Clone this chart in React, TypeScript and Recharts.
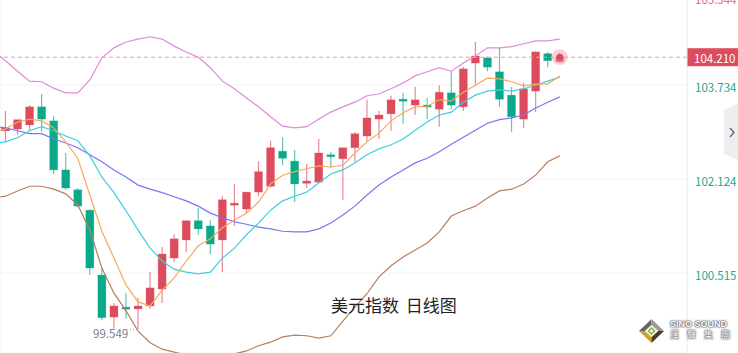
import React from 'react';
import {
  ComposedChart,
  Bar,
  Line,
  XAxis,
  YAxis,
  CartesianGrid,
  ReferenceLine,
  ReferenceDot,
} from 'recharts';

const opens = [102.95, 102.98, 103.05, 103.36, 103.12, 102.28, 101.94, 101.59, 100.48, 99.76, 99.93, 99.90, 99.95, 100.24, 100.77, 101.08, 101.41, 101.32, 101.08, 101.68, 101.61, 101.90, 102.00, 102.60, 102.43, 102.05, 102.07, 102.54, 102.47, 102.66, 102.86, 103.15, 103.24, 103.49, 103.39, 103.39, 103.32, 103.60, 103.36, 104.11, 104.20, 103.96, 103.56, 103.15, 103.63, 104.27, 104.13];
const closes = [103.00, 103.14, 103.36, 103.15, 102.28, 101.97, 101.66, 100.60, 99.75, 99.95, 99.90, 99.95, 100.26, 100.84, 101.10, 101.41, 101.27, 101.01, 101.77, 101.71, 101.90, 102.25, 102.66, 102.48, 102.04, 102.09, 102.57, 102.51, 102.66, 102.90, 103.17, 103.22, 103.48, 103.46, 103.48, 103.36, 103.61, 103.39, 104.01, 104.23, 104.04, 103.49, 103.19, 103.67, 104.30, 104.15, 104.21];
const highs = [103.29, 103.14, 103.39, 103.58, 103.20, 102.57, 101.97, 101.61, 100.60, 100.00, 100.17, 100.09, 100.53, 100.96, 101.18, 101.41, 101.63, 101.42, 101.83, 102.04, 101.90, 102.43, 102.78, 102.84, 102.62, 102.38, 102.81, 102.59, 102.66, 102.93, 103.48, 103.29, 103.55, 103.60, 103.70, 103.51, 103.73, 103.97, 104.04, 104.47, 104.22, 104.37, 103.70, 103.77, 104.31, 104.30, 104.29];
const lows = [102.76, 102.88, 102.95, 102.93, 102.21, 101.94, 101.64, 100.48, 99.71, 99.56, 99.73, 99.549, 99.90, 100.00, 100.70, 100.87, 101.17, 100.84, 100.53, 101.32, 101.54, 101.83, 101.98, 102.36, 101.73, 101.97, 102.05, 102.31, 101.77, 102.42, 102.76, 102.81, 102.95, 103.07, 103.22, 103.15, 103.02, 103.32, 103.29, 103.73, 103.97, 103.36, 102.93, 103.00, 103.27, 104.04, 104.11];

// line series start one day earlier than the candles, that day sits just off the left edge
const upperBand = [104.32, 104.15, 103.97, 103.80, 103.79, 103.68, 103.60, 103.60, 103.82, 104.20, 104.37, 104.47, 104.52, 104.56, 104.52, 104.40, 104.30, 104.21, 104.03, 103.80, 103.67, 103.51, 103.36, 103.19, 103.03, 103.00, 103.02, 103.15, 103.27, 103.36, 103.44, 103.55, 103.58, 103.67, 103.77, 103.89, 103.96, 104.03, 103.97, 104.11, 104.23, 104.37, 104.37, 104.39, 104.44, 104.49, 104.49, 104.52];
const ma5 = [102.93, 102.98, 103.10, 103.15, 103.12, 103.00, 102.76, 102.48, 101.85, 101.23, 100.77, 100.31, 100.02, 99.95, 100.22, 100.43, 100.72, 100.98, 101.10, 101.29, 101.42, 101.54, 101.73, 102.04, 102.19, 102.25, 102.30, 102.35, 102.33, 102.36, 102.57, 102.76, 102.91, 103.12, 103.26, 103.36, 103.37, 103.48, 103.46, 103.61, 103.73, 103.85, 103.84, 103.79, 103.72, 103.75, 103.75, 103.89];
const ma10 = [102.73, 102.76, 102.83, 102.95, 103.02, 102.95, 102.86, 102.78, 102.52, 102.16, 101.89, 101.58, 101.25, 100.94, 100.72, 100.58, 100.53, 100.50, 100.53, 100.77, 100.94, 101.17, 101.37, 101.59, 101.75, 101.83, 101.90, 102.06, 102.21, 102.28, 102.40, 102.54, 102.64, 102.71, 102.81, 102.96, 103.10, 103.22, 103.27, 103.44, 103.56, 103.63, 103.65, 103.63, 103.67, 103.73, 103.80, 103.87];
const ma20 = [103.03, 103.00, 102.95, 102.90, 102.90, 102.81, 102.74, 102.66, 102.54, 102.42, 102.28, 102.16, 102.02, 101.95, 101.89, 101.82, 101.75, 101.66, 101.54, 101.46, 101.39, 101.35, 101.30, 101.27, 101.23, 101.22, 101.22, 101.27, 101.37, 101.51, 101.66, 101.85, 102.02, 102.16, 102.28, 102.40, 102.48, 102.59, 102.72, 102.84, 102.96, 103.08, 103.14, 103.17, 103.22, 103.34, 103.44, 103.53];
const lowerBand = [101.80, 101.83, 101.92, 102.00, 102.00, 101.95, 101.87, 101.68, 101.25, 100.60, 100.17, 99.87, 99.52, 99.32, 99.21, 99.16, 99.11, 99.06, 99.06, 99.09, 99.13, 99.18, 99.27, 99.33, 99.42, 99.45, 99.44, 99.40, 99.44, 99.69, 99.93, 100.16, 100.45, 100.64, 100.79, 100.91, 101.03, 101.22, 101.49, 101.58, 101.66, 101.80, 101.92, 101.95, 102.04, 102.19, 102.42, 102.52];

const priceTicks = [105.344, 103.734, 102.124, 100.515];
const dayTicks = [0, 15, 30, 45];
const lastPrice = 104.21;
const lowPrice = 99.549;

const data = upperBand.map((upper, n) => {
  const c = n - 1;
  const hasCandle = c >= 0;
  return {
    i: c,
    open: hasCandle ? opens[c] : null,
    close: hasCandle ? closes[c] : null,
    high: hasCandle ? highs[c] : null,
    low: hasCandle ? lows[c] : null,
    range: hasCandle ? [lows[c], highs[c]] : null,
    upperBand: upper,
    ma5: ma5[n],
    ma10: ma10[n],
    ma20: ma20[n],
    lowerBand: lowerBand[n],
  };
});

const RED = '#dc4c5c';
const GREEN = '#0aa98a';
const FONT = '"Noto Sans CJK SC", "Noto Sans", sans-serif';

function Candle(props: any) {
  const { x, y, width, height, payload } = props;
  if (payload.open == null) return null;
  const { open, close, high, low } = payload;
  const color = close >= open ? RED : GREEN;
  const unit = height / (high - low);
  const top = y + (high - Math.max(open, close)) * unit;
  const bodyHeight = Math.max(Math.abs(open - close) * unit, 2);
  const mid = x + width / 2;
  return (
    <g>
      <line x1={mid} x2={mid} y1={y} y2={y + height} stroke={color} strokeWidth={1.2} strokeOpacity={0.65} />
      <rect x={x} y={top} width={width} height={bodyHeight} fill={color} stroke={color} strokeOpacity={0.25} />
    </g>
  );
}

function PriceTick(props: any) {
  const { x, y, payload } = props;
  const isTop = payload.value === priceTicks[0];
  return (
    <text
      x={x}
      y={isTop ? y + 8 : y + 2}
      dominantBaseline="central"
      fontFamily={FONT}
      fontSize={11.5}
      fill={isTop ? '#e0697a' : '#19a98e'}
    >
      {payload.value.toFixed(3)}
    </text>
  );
}

function PriceTag(props: any) {
  const { viewBox } = props;
  const left = viewBox.x + viewBox.width;
  return (
    <g>
      <rect x={left} y={viewBox.y - 9} width={51} height={18} fill={RED} />
      <text x={left + 7} y={viewBox.y + 0.5} dominantBaseline="central" fontFamily={FONT} fontSize={11.5} fill="#fff">
        {lastPrice.toFixed(3)}
      </text>
    </g>
  );
}

function LowMark(props: any) {
  const { cx, cy } = props;
  return (
    <g>
      <line x1={cx - 11} x2={cx} y1={cy} y2={cy} stroke="#a0a6b0" strokeWidth={1} strokeDasharray="1 2" />
      <text x={cx - 45} y={cy + 3.5} dominantBaseline="central" fontFamily={FONT} fontSize={11.5} fill="#7a8088">
        {lowPrice}
      </text>
    </g>
  );
}

export default function App() {
  return (
    <div style={{ position: 'absolute', left: 0, top: 0, width: 738, height: 353, overflow: 'hidden', background: '#fff' }}>
      <div style={{ position: 'absolute', left: 0, top: -12 }}>
        <ComposedChart width={738} height={365} data={data} margin={{ top: 0, right: 0, bottom: 0, left: 0 }}>
          <CartesianGrid stroke="#f3f3f6" />
          <XAxis
            dataKey="i"
            type="number"
            domain={[-0.456, 56.56]}
            allowDataOverflow
            ticks={dayTicks}
            tick={false}
            tickLine={false}
            axisLine={false}
            height={0}
          />
          <YAxis
            orientation="right"
            width={51}
            domain={[99.145, 105.395]}
            allowDataOverflow
            ticks={priceTicks}
            interval={0}
            tick={<PriceTick />}
            tickLine={false}
            axisLine={{ stroke: '#eeeef0' }}
          />
          <Line dataKey="upperBand" stroke="#e08ad8" strokeWidth={1.2} dot={false} activeDot={false} isAnimationActive={false} />
          <Line dataKey="lowerBand" stroke="#b87f5c" strokeWidth={1.2} dot={false} activeDot={false} isAnimationActive={false} />
          <Bar dataKey="range" barSize={8} shape={<Candle />} isAnimationActive={false} />
          <Line dataKey="ma20" stroke="#7478f5" strokeWidth={1.2} dot={false} activeDot={false} isAnimationActive={false} />
          <Line dataKey="ma10" stroke="#3fcde0" strokeWidth={1.2} dot={false} activeDot={false} isAnimationActive={false} />
          <Line dataKey="ma5" stroke="#f7a95c" strokeWidth={1.2} dot={false} activeDot={false} isAnimationActive={false} />
          <ReferenceLine y={lastPrice} stroke="#f09aa8" strokeDasharray="4 3" label={<PriceTag />} />
          <ReferenceDot x={46} y={lastPrice} r={8} fill="#f4a6b0" fillOpacity={0.5} stroke="none" />
          <ReferenceDot x={46} y={lastPrice} r={3.5} fill={RED} stroke="none" />
          <ReferenceDot x={11} y={lowPrice} r={0} shape={<LowMark />} />
        </ComposedChart>
      </div>

      <div style={{ position: 'absolute', left: 331, top: 292, fontFamily: FONT, fontSize: 17, lineHeight: '26px', color: '#222', whiteSpace: 'pre', wordSpacing: 3 }}>
        美元指数 日线图
      </div>

      <svg style={{ position: 'absolute', left: 700, top: 95 }} width={38} height={80}>
        <polygon points="24,15 38,8 38,65 24,59" fill="#eeeef1" />
        <polyline points="30,33 34,37.5 30,42" fill="none" stroke="#667080" strokeWidth={1.5} />
      </svg>

      <svg style={{ position: 'absolute', left: 636, top: 316 }} width={32} height={30}>
        <polygon points="15.5,3 3,15 9,15 15.5,9" fill="#666" />
        <polygon points="15.5,3 28,15 22,15 15.5,9" fill="#999" />
        <polygon points="3,15 15.5,27 15.5,21 9,15" fill="#c8a820" />
        <polygon points="28,15 15.5,27 15.5,21 22,15" fill="#4a3a20" />
        <polygon points="15.5,9 22,15 15.5,21 9,15" fill="#f4f4ea" />
        <polygon points="15.5,12 18.5,15 15.5,18 12.5,15" fill="none" stroke="#8ab83a" strokeWidth={1.5} />
      </svg>
      <div style={{ position: 'absolute', left: 670, top: 319, fontFamily: '"Liberation Sans", sans-serif', fontWeight: 700, fontSize: 9, lineHeight: '11px', color: '#fff', textShadow: '0 0 2px #555, 0 0 2px #555, 0 0 1px #555', whiteSpace: 'pre' }}>
        SINO SOUND
      </div>
      <div style={{ position: 'absolute', left: 670, top: 329, fontFamily: FONT, fontSize: 9, lineHeight: '11px', letterSpacing: 8, color: '#fff', textShadow: '0 0 2px #555, 0 0 2px #555, 0 0 1px #555', whiteSpace: 'pre' }}>
        漢聲集團
      </div>
    </div>
  );
}
